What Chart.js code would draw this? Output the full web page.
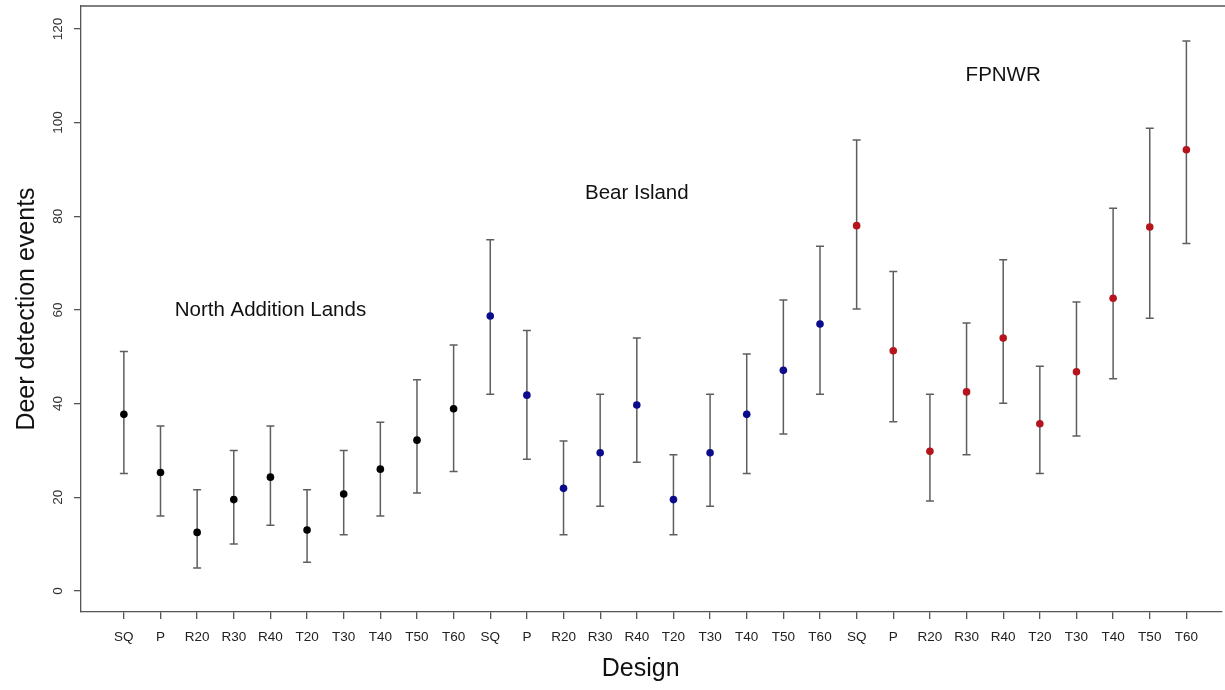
<!DOCTYPE html>
<html>
<head>
<meta charset="utf-8">
<title>Deer detection events by design</title>
<script src="https://cdn.jsdelivr.net/npm/chart.js@4.4.1/dist/chart.umd.min.js"></script>
<style>
  html, body { margin: 0; padding: 0; background: #fff; }
  canvas { display: block; }
</style>
</head>
<body>
<canvas id="designs" width="1225" height="690"></canvas>
<script>
// survey designs, repeated for each site along the x axis
var designs = ["SQ", "P", "R20", "R30", "R40", "T20", "T30", "T40", "T50", "T60"];
var sites = ["North Addition Lands", "Bear Island", "FPNWR"];
var siteColors = ["#000000", "#0b0b8c", "#b5141c"];
// where each site name sits (x = design index, y = detections)
var siteLabelX = [4, 14, 24];
var siteLabelY = [60, 85, 110];

// mean detections with lower / upper interval per design
var northMean = [37.7, 25.3, 12.5, 19.5, 24.3, 13.0, 20.7, 26.0, 32.2, 38.9];
var northLow  = [25.1, 16.0, 4.9, 10.0, 14.0, 6.1, 12.0, 16.0, 20.9, 25.5];
var northHigh = [51.1, 35.2, 21.6, 30.0, 35.2, 21.6, 30.0, 36.0, 45.1, 52.5];

var bearMean = [58.7, 41.8, 21.9, 29.5, 39.7, 19.5, 29.5, 37.7, 47.1, 57.0];
var bearLow  = [42.0, 28.1, 12.0, 18.1, 27.5, 12.0, 18.1, 25.1, 33.5, 42.0];
var bearHigh = [75.0, 55.6, 32.0, 42.0, 54.0, 29.1, 42.0, 50.6, 62.1, 73.6];

var fpnwrMean = [78.0, 51.3, 29.8, 42.5, 54.0, 35.7, 46.8, 62.5, 77.7, 94.2];
var fpnwrLow  = [60.2, 36.1, 19.2, 29.1, 40.1, 25.1, 33.1, 45.3, 58.2, 74.2];
var fpnwrHigh = [96.3, 68.2, 42.0, 57.2, 70.7, 48.0, 61.7, 81.7, 98.8, 117.4];

var yTicks = [0, 20, 40, 60, 80, 100, 120];

var means = [northMean, bearMean, fpnwrMean];
var lows = [northLow, bearLow, fpnwrLow];
var highs = [northHigh, bearHigh, fpnwrHigh];

var xLabels = [];
sites.forEach(function () { xLabels = xLabels.concat(designs); });

var FONT = "'Liberation Sans', Arial, Helvetica, sans-serif";

var datasets = sites.map(function (site, s) {
  return {
    label: site,
    data: means[s].map(function (v, i) { return { x: s * designs.length + i, y: v }; }),
    backgroundColor: siteColors[s],
    borderColor: siteColors[s],
    borderWidth: 0,
    pointRadius: 3.8,
    pointHoverRadius: 3.8
  };
});

// vertical interval lines with small caps, under the points
var errorBars = {
  id: "errorBars",
  beforeDatasetsDraw: function (chart) {
    var ctx = chart.ctx, xs = chart.scales.x, ys = chart.scales.y;
    ctx.save();
    ctx.strokeStyle = "#5e5e5e";
    ctx.lineWidth = 1.5;
    sites.forEach(function (site, s) {
      designs.forEach(function (d, i) {
        var px = xs.getPixelForValue(s * designs.length + i);
        var top = ys.getPixelForValue(highs[s][i]);
        var bot = ys.getPixelForValue(lows[s][i]);
        ctx.beginPath();
        ctx.moveTo(px, top); ctx.lineTo(px, bot);
        ctx.moveTo(px - 4, top); ctx.lineTo(px + 4, top);
        ctx.moveTo(px - 4, bot); ctx.lineTo(px + 4, bot);
        ctx.stroke();
      });
    });
    ctx.restore();
  }
};

// site names and the top edge of the plot box
var decorations = {
  id: "decorations",
  afterDraw: function (chart) {
    var ctx = chart.ctx, xs = chart.scales.x, ys = chart.scales.y, area = chart.chartArea;
    ctx.save();
    ctx.strokeStyle = "#555";
    ctx.lineWidth = 1.3;
    ctx.beginPath();
    ctx.moveTo(area.left, area.top);
    ctx.lineTo(chart.width, area.top);
    ctx.stroke();
    ctx.fillStyle = "#111";
    ctx.font = "20.5px " + FONT;
    ctx.textAlign = "center";
    ctx.textBaseline = "middle";
    sites.forEach(function (site, s) {
      ctx.fillText(site, xs.getPixelForValue(siteLabelX[s]), ys.getPixelForValue(siteLabelY[s]));
    });
    ctx.restore();
  }
};

// fixed axis sizes, no extra room for overhanging tick labels
function noOverhang(scale) {
  scale.paddingTop = 0;
  scale.paddingBottom = 0;
  scale.paddingLeft = 0;
  scale.paddingRight = 0;
}

var chart = new Chart(document.getElementById("designs"), {
  type: "scatter",
  data: { datasets: datasets },
  options: {
    responsive: false,
    animation: false,
    events: [],
    layout: { padding: { top: 6, left: 0, right: 0, bottom: 0 } },
    plugins: {
      legend: { display: false },
      tooltip: { enabled: false }
    },
    scales: {
      x: {
        type: "linear",
        min: -1.17,
        max: 29.95,
        afterBuildTicks: function (scale) {
          scale.ticks = xLabels.map(function (l, i) { return { value: i }; });
        },
        afterFit: function (scale) { scale.height = 78; noOverhang(scale); },
        grid: { display: true, drawOnChartArea: false, drawTicks: true, tickLength: 7, color: "#555", lineWidth: 1.3 },
        border: { display: true, color: "#555", width: 1.3 },
        ticks: {
          autoSkip: false,
          maxRotation: 0,
          minRotation: 0,
          padding: 10,
          color: "#222",
          font: { family: FONT, size: 13.5 },
          callback: function (value) { return xLabels[value]; }
        },
        title: {
          display: true,
          text: "Design   ",
          color: "#111",
          font: { family: FONT, size: 25 },
          padding: { top: 0, bottom: 6 }
        }
      },
      y: {
        min: -4.5,
        max: 124.9,
        afterBuildTicks: function (scale) {
          scale.ticks = yTicks.map(function (v) { return { value: v }; });
        },
        afterFit: function (scale) { scale.width = 81; noOverhang(scale); },
        grid: { display: true, drawOnChartArea: false, drawTicks: true, tickLength: 7, color: "#555", lineWidth: 1.3 },
        border: { display: true, color: "#555", width: 1.3 },
        ticks: {
          minRotation: 90,
          maxRotation: 90,
          crossAlign: "center",
          padding: 4,
          color: "#333",
          font: { family: FONT, size: 13.5 }
        },
        title: {
          display: true,
          text: "Deer detection events",
          color: "#111",
          font: { family: FONT, size: 25 },
          padding: { top: 12, bottom: 0 }
        }
      }
    }
  },
  plugins: [errorBars, decorations]
});
</script>
</body>
</html>
